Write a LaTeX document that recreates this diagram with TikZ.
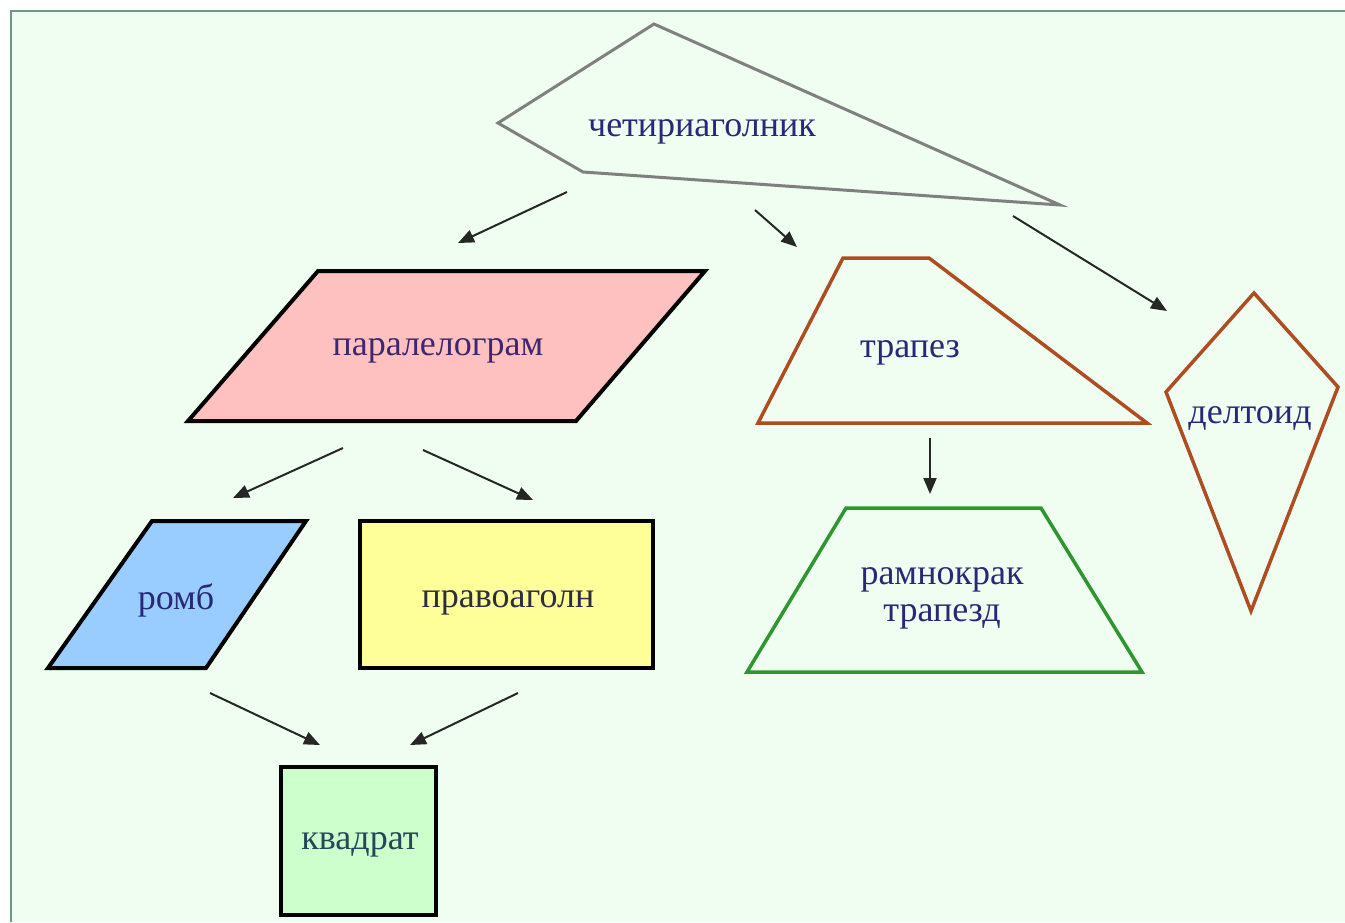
\documentclass[tikz,border=0pt]{standalone}
\usepackage{fontspec}
\setmainfont{Liberation Serif}
\usetikzlibrary{arrows.meta}
\definecolor{bgc}{RGB}{240,254,241}
\definecolor{framec}{RGB}{110,152,138}
\definecolor{txtc}{RGB}{40,40,120}
\definecolor{greyc}{RGB}{128,128,128}
\definecolor{brownc}{RGB}{172,78,32}
\definecolor{greenc}{RGB}{46,150,46}
\definecolor{pinkc}{RGB}{255,192,192}
\definecolor{bluec}{RGB}{153,204,255}
\definecolor{yellowc}{RGB}{255,255,153}
\definecolor{lgreenc}{RGB}{204,255,204}
\tikzset{
  lbl/.style={text=txtc, font=\fontsize{36}{40}\selectfont, inner sep=0pt, align=center},
  blackshape/.style={draw=black, line width=4pt, line join=miter},
  greyshape/.style={draw=greyc, line width=3pt, line join=miter},
  brownshape/.style={draw=brownc, line width=3.5pt, line join=miter},
  greenshape/.style={draw=greenc, line width=3.5pt, line join=miter},
  conn/.style={draw=black!85, line width=2pt, -{Triangle[length=16pt,width=13pt]}}
}
\begin{document}
\begin{tikzpicture}[x=1pt,y=-1pt]
\useasboundingbox (0,0) rectangle (1345,922);
\fill[white] (0,0) rectangle (1345,922);
\fill[bgc] (11,11) rectangle (1345,922);
\draw[framec, line width=2.5pt] (11,922) -- (11,11) -- (1345,11);

% shapes
\draw[greyshape] (654,24) -- (1060,205) -- (583,172) -- (498,123) -- cycle;
\draw[blackshape, fill=pinkc] (318,271) -- (705,271) -- (576,421) -- (188,421) -- cycle;
\draw[brownshape] (843,258) -- (929,258) -- (1147,423) -- (758,423) -- cycle;
\draw[brownshape] (1254,293) -- (1338,387) -- (1251,611) -- (1166,392) -- cycle;
\draw[blackshape, fill=bluec] (152,521) -- (306,521) -- (206,668) -- (48,668) -- cycle;
\draw[blackshape, fill=yellowc] (360,521) rectangle (653,668);
\draw[greenshape] (846,508) -- (1041,508) -- (1142,672) -- (747,672) -- cycle;
\draw[blackshape, fill=lgreenc] (281,767) rectangle (436,915);

% labels
\node[lbl] (q) at (702,132) {четириаголник};
\node[lbl, text={rgb,255:red,60;green,40;blue,110}] (p) at (438,351) {паралелограм};
\node[lbl] (t) at (910,353) {трапез};
\node[lbl] (d) at (1250,418) {делтоид};
\node[lbl] (r) at (176,600) {ромб};
\node[lbl, text={rgb,255:red,45;green,45;blue,65}] (pr) at (508,603) {правоаголн};
\node[lbl, font=\fontsize{36}{37}\selectfont] (rt) at (942,598) {рамнокрак\\трапезд};
\node[lbl, text={rgb,255:red,40;green,70;blue,90}] (k) at (360,845) {квадрат};

% connector ends
\coordinate (a1s) at (567,192); \coordinate (a1e) at (458,243);
\coordinate (a2s) at (755,210); \coordinate (a2e) at (797,247);
\coordinate (a3s) at (1013,216); \coordinate (a3e) at (1167,311);
\coordinate (a4s) at (343,448); \coordinate (a4e) at (233,498);
\coordinate (a5s) at (423,450); \coordinate (a5e) at (533,500);
\coordinate (a6s) at (930,438); \coordinate (a6e) at (930,494);
\coordinate (a7s) at (210,693); \coordinate (a7e) at (320,745);
\coordinate (a8s) at (518,693); \coordinate (a8e) at (410,745);

\draw[conn] (a1s) -- (a1e);
\draw[conn] (a2s) -- (a2e);
\draw[conn] (a3s) -- (a3e);
\draw[conn] (a4s) -- (a4e);
\draw[conn] (a5s) -- (a5e);
\draw[conn] (a6s) -- (a6e);
\draw[conn] (a7s) -- (a7e);
\draw[conn] (a8s) -- (a8e);
\end{tikzpicture}
\end{document}
